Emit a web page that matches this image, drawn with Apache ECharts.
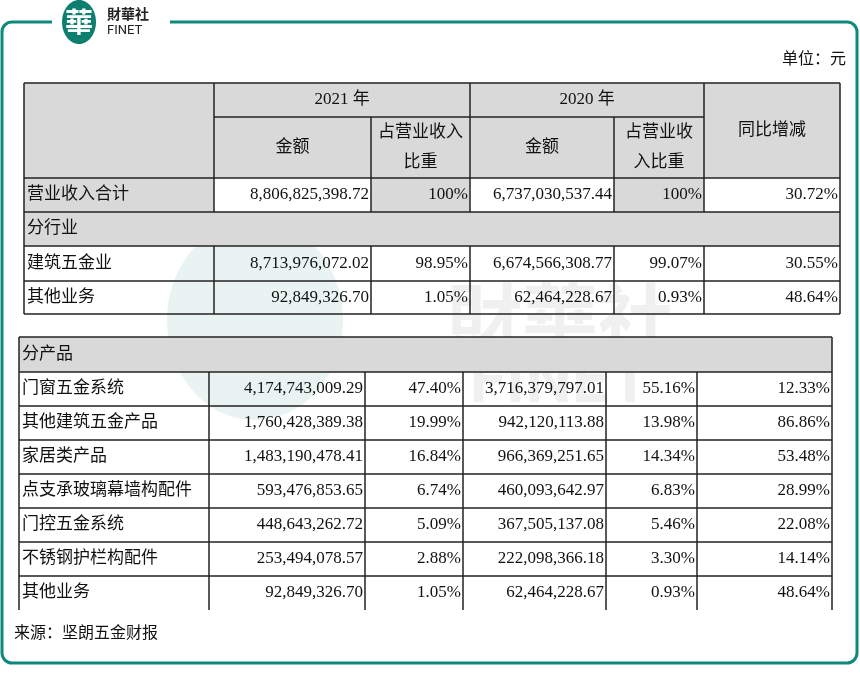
<!DOCTYPE html>
<html>
<head>
<meta charset="utf-8">
<script src="https://cdn.jsdelivr.net/npm/echarts@6/dist/echarts.min.js"></script>
<style>html,body{margin:0;padding:0;background:#fff}#main{width:860px;height:685px}</style>
</head>
<body>
<div id="main"></div>
<script>
var industryRows = [
  ['营业收入合计', '8,806,825,398.72', '100%', '6,737,030,537.44', '100%', '30.72%'],
  ['建筑五金业', '8,713,976,072.02', '98.95%', '6,674,566,308.77', '99.07%', '30.55%'],
  ['其他业务', '92,849,326.70', '1.05%', '62,464,228.67', '0.93%', '48.64%']
];
var productRows = [
  ['门窗五金系统', '4,174,743,009.29', '47.40%', '3,716,379,797.01', '55.16%', '12.33%'],
  ['其他建筑五金产品', '1,760,428,389.38', '19.99%', '942,120,113.88', '13.98%', '86.86%'],
  ['家居类产品', '1,483,190,478.41', '16.84%', '966,369,251.65', '14.34%', '53.48%'],
  ['点支承玻璃幕墙构配件', '593,476,853.65', '6.74%', '460,093,642.97', '6.83%', '28.99%'],
  ['门控五金系统', '448,643,262.72', '5.09%', '367,505,137.08', '5.46%', '22.08%'],
  ['不锈钢护栏构配件', '253,494,078.57', '2.88%', '222,098,366.18', '3.30%', '14.14%'],
  ['其他业务', '92,849,326.70', '1.05%', '62,464,228.67', '0.93%', '48.64%']
];
var yearLabels = ['2021 年', '2020 年'];

var GRAY = '#d9d9d9', LINE = '#222';
var FONT = '"Liberation Serif","Noto Sans CJK SC",serif';
var els = [];

function rect(x, y, w, h, fill) {
  els.push({type: 'rect', shape: {x: x, y: y, width: w, height: h}, style: {fill: fill}, silent: true});
}
function line(x1, y1, x2, y2) {
  els.push({type: 'line', shape: {x1: x1, y1: y1, x2: x2, y2: y2}, style: {stroke: LINE, lineWidth: 1.5}, silent: true});
}
function text(x, y, s, align, size) {
  els.push({type: 'text', x: x, y: y, style: {text: s, font: (size || 17) + 'px ' + FONT, fill: '#111', align: align || 'left', verticalAlign: 'middle', lineHeight: 30}, silent: true});
}
function rowCells(cols, y, h, row) {
  text(cols[0] + 3, y + h / 2, row[0], 'left');
  for (var i = 1; i < 6; i++) text(cols[i + 1] - 2, y + h / 2, row[i], 'right');
}

// watermark
els.push({type: 'text', x: 560, y: 318, style: {text: '財華社', font: 'bold 76px "Noto Sans CJK TC"', fill: 'rgba(0,0,0,0.06)', align: 'center', verticalAlign: 'middle'}, silent: true});
els.push({type: 'text', x: 560, y: 385, style: {text: 'FINET', font: 'bold 66px Roboto', fill: 'rgba(0,0,0,0.06)', align: 'center', verticalAlign: 'middle'}, silent: true});
els.push({type: 'ellipse', shape: {cx: 255, cy: 320, rx: 88, ry: 100}, style: {fill: 'rgba(10,130,110,0.09)'}, silent: true});

// table 1
var c1 = [24, 214, 371, 470, 614, 704, 840];
var r1 = [83, 117, 178, 212, 246, 281, 314];
rect(c1[0], r1[0], c1[6] - c1[0], r1[2] - r1[0], GRAY);
[0, 2, 4].forEach(function (i) { rect(c1[i], r1[2], c1[i + 1] - c1[i], r1[3] - r1[2], GRAY); });
rect(c1[0], r1[3], c1[6] - c1[0], r1[4] - r1[3], GRAY);
text((c1[1] + c1[3]) / 2, 100, yearLabels[0], 'center');
text((c1[3] + c1[5]) / 2, 100, yearLabels[1], 'center');
text((c1[1] + c1[2]) / 2, 148, '金额', 'center');
text((c1[3] + c1[4]) / 2, 148, '金额', 'center');
text((c1[2] + c1[3]) / 2, 148, '占营业收入\n比重', 'center');
text((c1[4] + c1[5]) / 2, 148, '占营业收\n入比重', 'center');
text((c1[5] + c1[6]) / 2, 131, '同比增减', 'center');
rowCells(c1, r1[2], 34, industryRows[0]);
text(c1[0] + 3, (r1[3] + r1[4]) / 2, '分行业', 'left');
rowCells(c1, r1[4], 35, industryRows[1]);
rowCells(c1, r1[5], 33, industryRows[2]);
[0, 2, 3, 4, 5, 6].forEach(function (i) { line(c1[0], r1[i], c1[6], r1[i]); });
line(c1[1], r1[1], c1[5], r1[1]);
line(c1[0], r1[0], c1[0], r1[6]);
line(c1[6], r1[0], c1[6], r1[6]);
line(c1[1], r1[0], c1[1], r1[3]);
line(c1[3], r1[0], c1[3], r1[3]);
line(c1[5], r1[0], c1[5], r1[3]);
line(c1[2], r1[1], c1[2], r1[3]);
line(c1[4], r1[1], c1[4], r1[3]);
[1, 2, 3, 4, 5].forEach(function (i) { line(c1[i], r1[4], c1[i], r1[6]); });

// table 2
var c2 = [19, 209, 365, 463, 606, 697, 832];
var top2 = 337, head2 = 35, rh = 34;
var bottom2 = top2 + head2 + rh * productRows.length;
rect(c2[0], top2, c2[6] - c2[0], head2, GRAY);
text(c2[0] + 3, top2 + head2 / 2, '分产品', 'left');
productRows.forEach(function (row, k) {
  var y = top2 + head2 + k * rh;
  rowCells(c2, y, rh, row);
  line(c2[0], y, c2[6], y);
});
line(c2[0], top2, c2[6], top2);
line(c2[0], top2, c2[0], bottom2);
line(c2[6], top2, c2[6], bottom2);
[1, 2, 3, 4, 5].forEach(function (i) { line(c2[i], top2 + head2, c2[i], bottom2); });

// unit & source
els.push({type: 'text', x: 846, y: 58, style: {text: '单位：元', font: '16px "Noto Sans CJK SC"', fill: '#111', align: 'right', verticalAlign: 'middle'}, silent: true});
els.push({type: 'text', x: 14, y: 632, style: {text: '来源：坚朗五金财报', font: '16px "Noto Sans CJK SC"', fill: '#111', align: 'left', verticalAlign: 'middle'}, silent: true});

// frame
els.push({type: 'rect', shape: {x: 2, y: 22, width: 855, height: 641, r: 10}, style: {fill: 'none', stroke: '#0e8a7c', lineWidth: 3}, silent: true});
rect(52, 10, 118, 20, '#fff');
els.push({type: 'ellipse', shape: {cx: 79, cy: 22, rx: 17, ry: 22}, style: {fill: '#0e7f6e'}, silent: true});
els.push({type: 'text', x: 79, y: 22, style: {text: '華', font: 'bold 28px "Noto Sans CJK TC"', fill: '#fff', align: 'center', verticalAlign: 'middle'}, silent: true});
els.push({type: 'text', x: 107, y: 14, style: {text: '財華社', font: 'bold 14px "Noto Sans CJK TC"', fill: '#222', align: 'left', verticalAlign: 'middle'}, silent: true});
els.push({type: 'text', x: 107, y: 31, style: {text: 'FINET', font: '13px Roboto', fill: '#222', align: 'left', verticalAlign: 'middle'}, silent: true});

var myChart = echarts.init(document.getElementById('main'));
myChart.setOption({animation: false, graphic: {elements: els}});
</script>
</body>
</html>
